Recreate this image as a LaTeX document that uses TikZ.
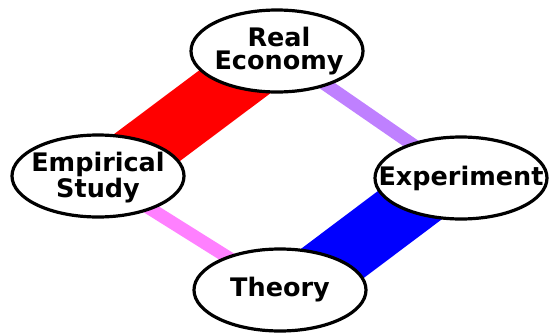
\documentclass[tikz,border=0pt]{standalone}
\usepackage{fontspec}
\setmainfont{DejaVu Sans}
\usetikzlibrary{shapes.geometric,backgrounds}
\definecolor{bandred}{RGB}{255,0,0}
\definecolor{bandblue}{RGB}{0,0,255}
\definecolor{bandpurple}{RGB}{191,128,255}
\definecolor{bandpink}{RGB}{255,128,255}
\begin{document}
\begin{tikzpicture}[x=1pt,y=-1pt,
  oval/.style={ellipse, draw=black, line width=3.2pt, fill=white, minimum width=172pt, minimum height=82pt, inner sep=0pt},
  lbl/.style={font=\fontsize{25.5}{23}\selectfont\bfseries, align=center, inner sep=0pt},
  thickband/.style={line width=61pt},
  thinband/.style={line width=13pt}]
\useasboundingbox (0,0) rectangle (551,332);
\node[oval] (real) at (277,51) {};
\node[oval] (emp) at (98,176) {};
\node[oval] (exp) at (461,178) {};
\node[oval] (theory) at (280,290) {};
\node[lbl] (realtext) at ([xshift=2pt]real.center) {Real\\Economy};
\node[lbl] (emptext) at ([yshift=-1.5pt]emp.center) {Empirical\\Study};
\node[lbl] (exptext) at (exp.center) {Experiment};
\node[lbl] (theorytext) at (theory.center) {Theory};
\begin{scope}[on background layer]
\draw[bandred, thickband] ([xshift=-1pt]real.center) -- ([xshift=11pt]emp.center);
\draw[bandblue, thickband] ([xshift=-15pt]exp.center) -- ([xshift=17pt]theory.center);
\draw[bandpurple, thinband] (real.center) -- (exp.center);
\draw[bandpink, thinband] (emp.center) -- (theory.center);
\end{scope}
\end{tikzpicture}
\end{document}
